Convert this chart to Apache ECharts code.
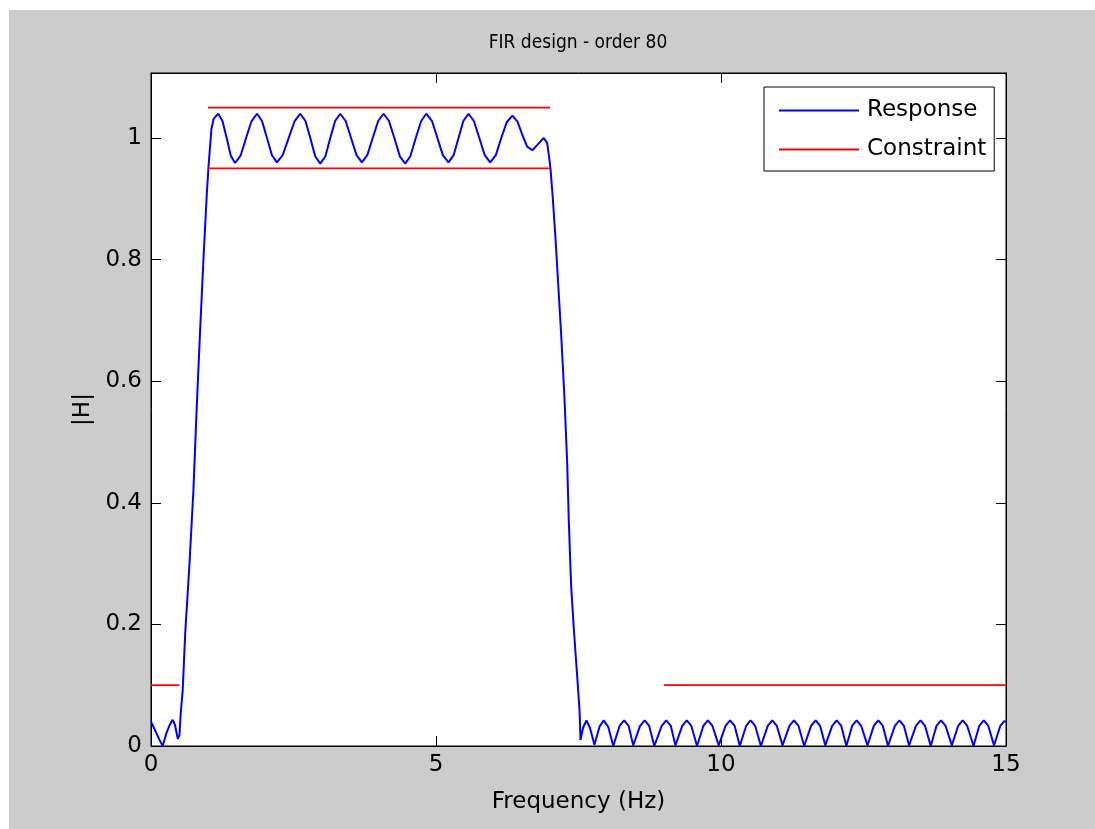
<!DOCTYPE html>
<html>
<head>
<meta charset="utf-8">
<title>FIR design - order 80</title>
<script src="https://cdn.jsdelivr.net/npm/echarts@6/dist/echarts.min.js"></script>
<style>
  html, body { margin: 0; padding: 0; background: #ffffff; }
  #frame { position: absolute; left: 9px; top: 10px; width: 1086px; height: 819px; background: #cccccc; }
  #chart { position: absolute; left: 0; top: 0; width: 1095px; height: 829px; }
</style>
</head>
<body>
<div id="frame"></div>
<div id="chart"></div>
<script>
// Magnitude response |H| of the order-80 FIR filter, as [frequency (Hz), |H|] pairs.
const lowStop = [
  [0, 0.040], [0.05, 0.030], [0.10, 0.020], [0.16, 0.008], [0.205, 0.000],
  [0.27, 0.021], [0.33, 0.035], [0.38, 0.043], [0.42, 0.035], [0.47, 0.012], [0.50, 0.018]
];
const riseBand = [
  [0.52, 0.052], [0.556, 0.091], [0.60, 0.185], [0.673, 0.296], [0.743, 0.418],
  [0.80, 0.552], [0.86, 0.680], [0.92, 0.800], [0.98, 0.910], [1.007, 0.950],
  [1.06, 1.015], [1.10, 1.032]
];
const passBand = [
  [1.18, 1.040],
  [1.254, 1.028], [1.328, 1.000], [1.40, 0.971], [1.475, 0.959],
  [1.571, 0.971], [1.668, 1.000], [1.764, 1.028], [1.86, 1.040],
  [1.948, 1.028], [2.035, 1.000], [2.12, 0.972], [2.21, 0.960],
  [2.31, 0.972], [2.415, 1.000], [2.52, 1.028], [2.62, 1.040],
  [2.71, 1.028], [2.795, 1.000], [2.88, 0.970], [2.97, 0.958],
  [3.06, 0.970], [3.145, 1.000], [3.23, 1.028], [3.32, 1.040],
  [3.415, 1.028], [3.51, 1.000], [3.605, 0.972], [3.70, 0.960],
  [3.795, 0.972], [3.89, 1.000], [3.985, 1.028], [4.08, 1.040],
  [4.175, 1.028], [4.27, 1.000], [4.365, 0.970], [4.46, 0.958],
  [4.55, 0.970], [4.645, 1.000], [4.74, 1.028], [4.83, 1.040],
  [4.93, 1.028], [5.025, 1.000], [5.12, 0.972], [5.22, 0.960],
  [5.31, 0.972], [5.395, 1.000], [5.48, 1.028], [5.57, 1.040],
  [5.665, 1.028], [5.76, 1.000], [5.855, 0.972], [5.95, 0.960],
  [6.05, 0.972], [6.145, 1.000], [6.24, 1.026], [6.34, 1.037],
  [6.43, 1.027], [6.515, 1.005], [6.60, 0.986], [6.69, 0.980],
  [6.79, 0.990], [6.89, 1.000], [6.95, 0.992]
];
const fallBand = [
  [6.99, 0.965], [7.01, 0.948], [7.05, 0.900], [7.10, 0.830], [7.15, 0.750],
  [7.20, 0.670], [7.25, 0.580], [7.30, 0.470], [7.33, 0.370], [7.37, 0.265],
  [7.41, 0.204], [7.45, 0.150], [7.49, 0.098], [7.52, 0.055], [7.535, 0.010]
];
const highStop = [
  [7.58, 0.030], [7.64, 0.042], [7.70, 0.030], [7.78, 0.002],
  [7.87, 0.032], [7.94, 0.042], [8.02, 0.032], [8.11, 0.000],
  [8.22, 0.033], [8.30, 0.042], [8.38, 0.033], [8.46, 0.001],
  [8.58, 0.033], [8.66, 0.042], [8.74, 0.033], [8.83, 0.000],
  [8.96, 0.033], [9.04, 0.042], [9.12, 0.033], [9.20, 0.001],
  [9.32, 0.033], [9.40, 0.042], [9.48, 0.033], [9.58, 0.000],
  [9.69, 0.033], [9.77, 0.042], [9.85, 0.033], [9.96, 0.001],
  [10.08, 0.033], [10.16, 0.042], [10.24, 0.033], [10.33, 0.000],
  [10.44, 0.033], [10.52, 0.042], [10.60, 0.033], [10.70, 0.000],
  [10.82, 0.033], [10.90, 0.042], [10.98, 0.033], [11.08, 0.001],
  [11.20, 0.033], [11.28, 0.042], [11.36, 0.033], [11.46, 0.000],
  [11.58, 0.033], [11.66, 0.042], [11.74, 0.033], [11.83, 0.001],
  [11.95, 0.033], [12.03, 0.042], [12.11, 0.033], [12.20, 0.000],
  [12.30, 0.033], [12.38, 0.042], [12.46, 0.033], [12.57, 0.001],
  [12.68, 0.033], [12.76, 0.042], [12.84, 0.033], [12.93, 0.000],
  [13.05, 0.033], [13.13, 0.042], [13.21, 0.033], [13.30, 0.001],
  [13.42, 0.033], [13.50, 0.042], [13.58, 0.033], [13.68, 0.000],
  [13.78, 0.033], [13.86, 0.042], [13.94, 0.033], [14.05, 0.001],
  [14.16, 0.033], [14.24, 0.042], [14.32, 0.033], [14.43, 0.000],
  [14.53, 0.033], [14.61, 0.042], [14.69, 0.033], [14.79, 0.001],
  [14.90, 0.033], [14.97, 0.041], [15.00, 0.040]
];

// Design constraints: stopband ceilings and passband tolerance band.
const stopLowLimit = [[0, 0.10], [0.5, 0.10]];
const passUpperLimit = [[1, 1.05], [7, 1.05]];
const passLowerLimit = [[1, 0.95], [7, 0.95]];
const stopHighLimit = [[9, 0.10], [15, 0.10]];

const xTicks = { min: 0, max: 15, interval: 5 };
const yTicks = { min: 0, max: 1.107, interval: 0.2 };

const FONT = 'DejaVu Sans';
const TEXT_SIZE = 23;
const response = [].concat(lowStop, riseBand, passBand, fallBand, highStop);

const chart = echarts.init(document.getElementById('chart'), null, { renderer: 'canvas' });

function constraintSeries(data) {
  return {
    name: 'Constraint', type: 'line', data: data, symbol: 'none',
    lineStyle: { color: '#ff0000', width: 1.8 }, itemStyle: { color: '#ff0000' },
    silent: true, z: 3
  };
}

const axisCommon = {
  type: 'value',
  axisLine: { show: true, onZero: false, lineStyle: { color: '#000', width: 1 } },
  axisTick: { show: true, inside: true, length: 10, lineStyle: { color: '#000', width: 1 } },
  splitLine: { show: false }
};

chart.setOption({
  animation: false,
  backgroundColor: 'transparent',
  title: {
    text: 'FIR design - order 80',
    left: 578, top: 34, textAlign: 'center', padding: 0,
    textStyle: { fontFamily: "'DejaVu Sans Condensed', 'DejaVu Sans'", fontSize: 19, fontWeight: 'normal', color: '#000' }
  },
  grid: {
    left: 151, top: 73, width: 855, height: 673,
    show: true, backgroundColor: '#ffffff', borderColor: '#000', borderWidth: 1
  },
  legend: {
    orient: 'vertical', left: 764, top: 87,
    backgroundColor: '#ffffff', borderColor: '#000', borderWidth: 1,
    padding: [12, 8, 10, 15], itemWidth: 80, itemHeight: 2, itemGap: 16,
    icon: 'rect',
    textStyle: { fontFamily: FONT, fontSize: TEXT_SIZE, color: '#000', padding: [0, 0, 0, 3] },
    data: ['Response', 'Constraint']
  },
  xAxis: [
    Object.assign({}, axisCommon, xTicks, {
      position: 'bottom',
      axisLabel: { margin: 8, fontFamily: FONT, fontSize: TEXT_SIZE, color: '#000' },
      name: 'Frequency (Hz)', nameLocation: 'middle', nameGap: 45,
      nameTextStyle: { fontFamily: FONT, fontSize: TEXT_SIZE, color: '#000' }
    }),
    Object.assign({}, axisCommon, xTicks, { position: 'top', axisLabel: { show: false } })
  ],
  yAxis: [
    Object.assign({}, axisCommon, yTicks, {
      position: 'left',
      axisLabel: { margin: 9, fontFamily: FONT, fontSize: TEXT_SIZE, color: '#000', showMaxLabel: false },
      name: '|H|', nameLocation: 'middle', nameGap: 53, nameRotate: 90,
      nameTextStyle: { fontFamily: FONT, fontSize: TEXT_SIZE, color: '#000' }
    }),
    Object.assign({}, axisCommon, yTicks, { position: 'right', axisLabel: { show: false } })
  ],
  series: [
    {
      name: 'Response', type: 'line', data: response, symbol: 'none',
      lineStyle: { color: '#0000ff', width: 2 }, itemStyle: { color: '#0000ff' },
      silent: true, z: 2
    },
    constraintSeries(stopLowLimit),
    constraintSeries(passUpperLimit),
    constraintSeries(passLowerLimit),
    constraintSeries(stopHighLimit)
  ]
});
</script>
</body>
</html>
